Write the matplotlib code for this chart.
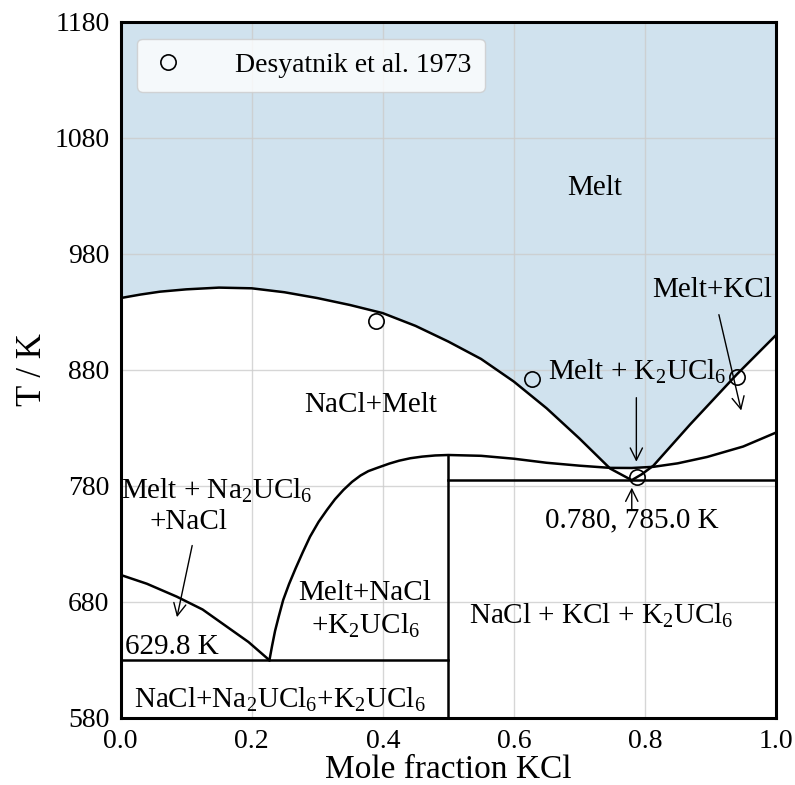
import numpy as np
import matplotlib
matplotlib.use("Agg")
from matplotlib import pyplot as plt

plt.rcParams['font.family'] = ['Liberation Serif', 'DejaVu Serif']
plt.rcParams['mathtext.fontset'] = 'custom'
plt.rcParams['mathtext.rm'] = 'Liberation Serif'
plt.rcParams['mathtext.it'] = 'Liberation Serif:italic'

# NaCl liquidus (upper curve), x = mole fraction KCl, T in K
x_nacl = [0.0, 0.03, 0.06, 0.10, 0.15, 0.20, 0.25, 0.30, 0.35, 0.40, 0.45, 0.50,
          0.55, 0.60, 0.65, 0.70, 0.747, 0.78]
T_nacl = [942.0, 945.0, 947.5, 949.5, 951.0, 950.4, 947.0, 942.0, 936.0, 929.0, 918.0, 904.5,
          889.5, 870.0, 847.0, 821.0, 795.0, 785.0]

# K2UCl6 / KCl liquidus (right branch)
x_kcl = [0.78, 0.795, 0.813, 0.869, 0.94, 1.0]
T_kcl = [785.0, 790.0, 797.5, 833.0, 876.0, 910.0]

# lower boundary (Melt+NaCl / solid), starts at the 629.8 K eutectic
x_low = [0.227, 0.231, 0.2356, 0.241, 0.248, 0.257, 0.267, 0.278, 0.289, 0.302, 0.315,
         0.327, 0.34, 0.353, 0.366, 0.378, 0.391, 0.41, 0.425, 0.442, 0.46, 0.48, 0.50,
         0.55, 0.60, 0.65, 0.70, 0.747, 0.78, 0.813, 0.85, 0.895, 0.95, 1.0]
T_low = [629.8, 642.0, 655.0, 667.0, 681.7, 695.5, 709.0, 723.0, 736.3, 749.0, 759.5,
         768.5, 776.6, 783.5, 789.0, 792.8, 795.5, 799.3, 801.8, 803.9, 805.3, 806.3, 806.7,
         806.0, 803.5, 800.0, 797.5, 795.6, 795.5, 796.5, 799.5, 805.0, 814.0, 826.0]

# Na2UCl6 liquidus (lower left)
x_na2 = [0.0, 0.04, 0.0855, 0.125, 0.162, 0.195, 0.227]
T_na2 = [703.3, 695.7, 684.6, 673.5, 658.7, 645.5, 629.8]

# invariant lines
T_eut1 = 629.8
T_eut2 = 785.0

# Desyatnik et al. 1973
x_exp = [0.39, 0.627, 0.788, 0.94]
T_exp = [922.5, 872.2, 788.0, 873.7]

fig = plt.figure(figsize=(7.95, 7.85), dpi=100)
ax = fig.add_axes([0.1518, 0.0854, 0.8242, 0.8866])

# melt region: bounded by the upper envelope of the curves
xn = np.array(x_nacl); Tn = np.array(T_nacl)
xl = np.array(x_low); Tl = np.array(T_low)
xk = np.array(x_kcl); Tk = np.array(T_kcl)
m1 = xn <= 0.747
m2 = (xl > 0.747) & (xl < 0.813)
m3 = xk >= 0.813
bx = np.concatenate([xn[m1], xl[m2], xk[m3]])
bT = np.concatenate([Tn[m1], Tl[m2], Tk[m3]])
ax.fill_between(bx, bT, 1180, color='#d0e2ee', linewidth=0, zorder=1)

lw = 1.8
ax.plot(x_nacl, T_nacl, color='black', lw=lw, zorder=3)
ax.plot(x_kcl, T_kcl, color='black', lw=lw, zorder=3)
ax.plot(x_low, T_low, color='black', lw=lw, zorder=3)
ax.plot(x_na2, T_na2, color='black', lw=lw, zorder=3)
ax.plot([0.0, 0.5], [T_eut1, T_eut1], color='black', lw=lw, zorder=3)
ax.plot([0.5, 1.0], [T_eut2, T_eut2], color='black', lw=lw, zorder=3)
ax.plot([0.5, 0.5], [580, 806.7], color='black', lw=lw, zorder=3)

ax.plot(x_exp, T_exp, 'o', mfc='none', mec='black', ms=11, mew=1.2,
        label='Desyatnik et al. 1973', zorder=4)

fs = 21
ax.text(0.724, 1037, 'Melt', fontsize=fs, ha='center', va='center')
ax.text(0.381, 850, 'NaCl+Melt', fontsize=fs, ha='center', va='center')
ax.text(0.652, 878, r'Melt + K$_2$UCl$_6$', fontsize=fs, ha='left', va='center')
ax.text(0.903, 949, 'Melt+KCl', fontsize=fs, ha='center', va='center')
ax.text(0.147, 776, r'Melt + Na$_2$UCl$_6$', fontsize=fs, ha='center', va='center')
ax.text(0.103, 749, '+NaCl', fontsize=fs, ha='center', va='center')
ax.text(0.007, 641, '629.8 K', fontsize=fs, ha='left', va='center')
ax.text(0.373, 688, 'Melt+NaCl', fontsize=fs, ha='center', va='center')
ax.text(0.373, 659, r'+K$_2$UCl$_6$', fontsize=fs, ha='center', va='center')
ax.text(0.78, 750.5, '0.780, 785.0 K', fontsize=fs, ha='center', va='center')
ax.text(0.733, 668, r'NaCl + KCl + K$_2$UCl$_6$', fontsize=fs, ha='center', va='center')
ax.text(0.243, 596, r'NaCl+Na$_2$UCl$_6$+K$_2$UCl$_6$', fontsize=fs, ha='center', va='center')

arr = dict(arrowstyle='->', color='black', lw=1.0, mutation_scale=22)
ax.annotate('', xy=(0.085, 664.5), xytext=(0.110, 731), arrowprops=arr, zorder=5)
ax.annotate('', xy=(0.787, 798.5), xytext=(0.787, 858.5), arrowprops=arr, zorder=5)
ax.annotate('', xy=(0.780, 781), xytext=(0.780, 756.5), arrowprops=arr, zorder=5)
ax.annotate('', xy=(0.948, 842.7), xytext=(0.912, 930), arrowprops=arr, zorder=5)

ax.set_xlim(0, 1)
ax.set_ylim(580, 1180)
ax.set_xticks([0.0, 0.2, 0.4, 0.6, 0.8, 1.0])
ax.set_yticks([580, 680, 780, 880, 980, 1080, 1180])
ax.set_xticklabels(['0.0', '0.2', '0.4', '0.6', '0.8', '1.0'])
ax.tick_params(length=0, labelsize=20, pad=8)
ax.grid(True, color='#cccccc', lw=1.0, alpha=0.8)
for s in ax.spines.values():
    s.set_linewidth(2.2)
    s.set_color('black')

ax.set_xlabel('Mole fraction KCl', fontsize=24, labelpad=0)
ax.set_ylabel('T / K', fontsize=25, labelpad=4)

ax.legend(loc='upper left', fontsize=20, handlelength=1.2, handletextpad=1.8,
          borderpad=0.5, borderaxespad=0.6, framealpha=0.8)

fig.savefig('out.png', dpi=100)
